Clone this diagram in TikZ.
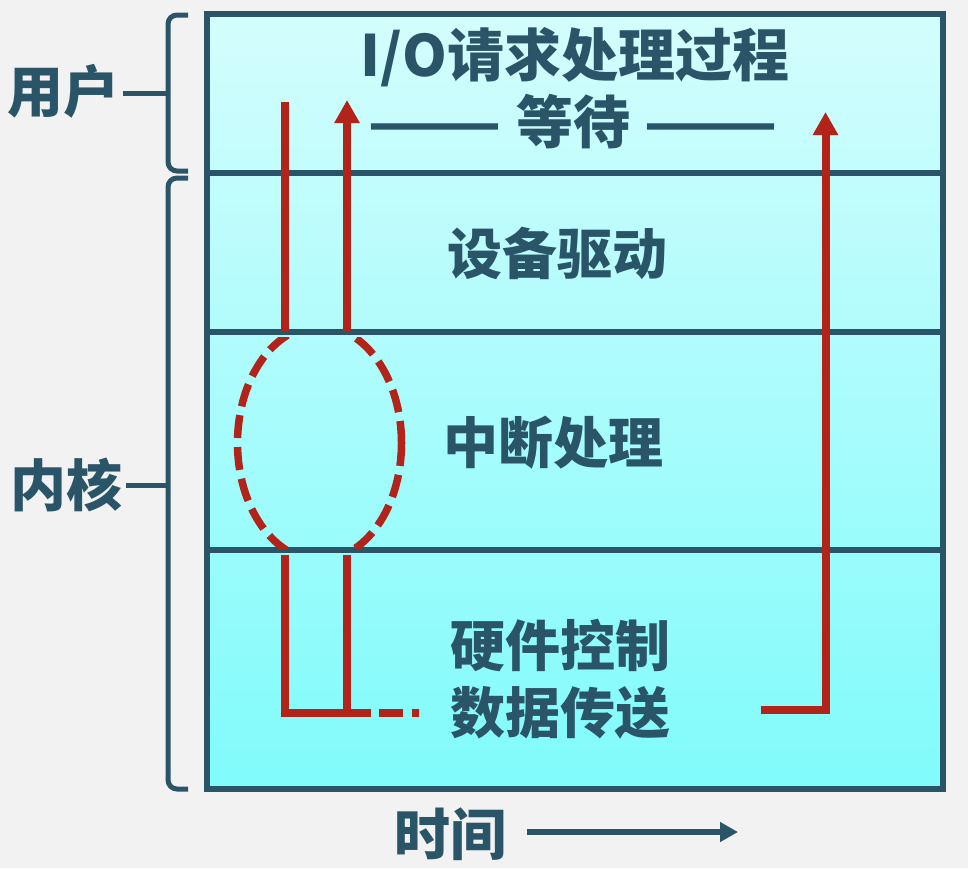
\documentclass[tikz,border=0pt]{standalone}
\usepackage{fontspec}
\usetikzlibrary{arrows.meta}
\newfontfamily\cjk{Noto Sans CJK SC}
\definecolor{ink}{HTML}{2A5568}
\definecolor{rd}{HTML}{B2231A}
\definecolor{paper}{HTML}{F2F2F2}
\definecolor{celltop}{HTML}{D4FDFD}
\definecolor{cellbot}{HTML}{80FBFB}
\newcommand{\longdash}{\scalebox{1.38}[1]{——}}
\tikzset{
  lbl/.style={font=\cjk\bfseries\fontsize{55}{60}\selectfont, text=ink, inner sep=0pt},
  big/.style={font=\cjk\bfseries\fontsize{57}{62}\selectfont, text=ink, inner sep=0pt},
  frame/.style={draw=ink, line width=5.5pt},
  brace/.style={draw=ink, line width=5pt, line cap=butt},
  redline/.style={draw=rd, line width=8pt, line join=miter},
  redtip/.style={-{Triangle[width=24pt,length=23pt]}},
  ring/.style={draw=rd, line width=7.5pt, dash pattern=on 23pt off 9pt},
}
\begin{document}
\begin{tikzpicture}[x=1pt, y=-1pt]
\useasboundingbox[fill=paper] (0,0) rectangle (968,868);

% layered box with cyan gradient
\shade[top color=celltop, bottom color=cellbot] (207,14) rectangle (943,789);
\draw[frame] (207,14) rectangle (943,789);
\draw[frame] (207,173) -- (943,173);
\draw[frame] (207,332) -- (943,332);
\draw[frame] (207,550) -- (943,550);

% layer texts
\node[big] (title) at (575,57) {I/O请求处理过程};
\node[big] (wait) at (573,122) {\longdash{} 等待 \longdash};
\node[lbl] (drv) at (557,253) {设备驱动};
\node[lbl] (irq) at (553,443) {中断处理};
\node[lbl, align=center, font=\cjk\bfseries\fontsize{55}{67}\selectfont] (hw) at (560,679) {硬件控制\\数据传送};

% side labels with braces
\node[lbl, font=\cjk\bfseries\fontsize{56}{60}\selectfont] (user) at (63,91) {用户};
\node[lbl, font=\cjk\bfseries\fontsize{56}{60}\selectfont] (kern) at (66,485) {内核};
\coordinate (ut) at (168,93);
\coordinate (kt) at (168,485);
\draw[brace] (user.east) ++(4,2) -- (ut);
\draw[brace] (kern.east) ++(4,0) -- (kt);
\draw[brace, rounded corners=9pt] (188,15) -- (168,15) -- (168,171) -- (188,171);
\draw[brace, rounded corners=9pt] (188,178) -- (168,178) -- (168,789) -- (188,789);

% control flow of an I/O request
\coordinate (a1) at (285,102);
\coordinate (a2) at (285,332);
\coordinate (b1) at (347,332);
\coordinate (b2) at (347,100);
\coordinate (a3) at (285,555);
\coordinate (b3) at (347,555);
\coordinate (ab) at (371,713);
\coordinate (dd) at (419,713);
\coordinate (c0) at (761,709.5);
\coordinate (c1) at (825.5,112);
\draw[redline] (a1) -- (a2);
\draw[redline, redtip] (b1) -- (b2);
\draw[redline] (a3) |- (ab);
\draw[redline] (b3) -- (b3 |- ab);
\draw[redline, dash pattern=on 0pt off 8pt on 24pt off 9pt on 7pt] (ab) -- (dd);
\draw[redline, redtip] (c0) -| (c1);

% interrupt handling loop
\begin{scope}
  \clip (200,337) rectangle (450,548);
  \draw[ring] (319.5,443) ellipse [x radius=82, y radius=117];
\end{scope}

% time axis
\node[lbl, font=\cjk\bfseries\fontsize{56}{60}\selectfont] (time) at (450,834) {时间};
\coordinate (t0) at (527,832);
\coordinate (t1) at (738,832);
\draw[ink, line width=6pt, -{Triangle[width=19pt,length=18pt]}] (t0) -- (t1);
\end{tikzpicture}
\end{document}
